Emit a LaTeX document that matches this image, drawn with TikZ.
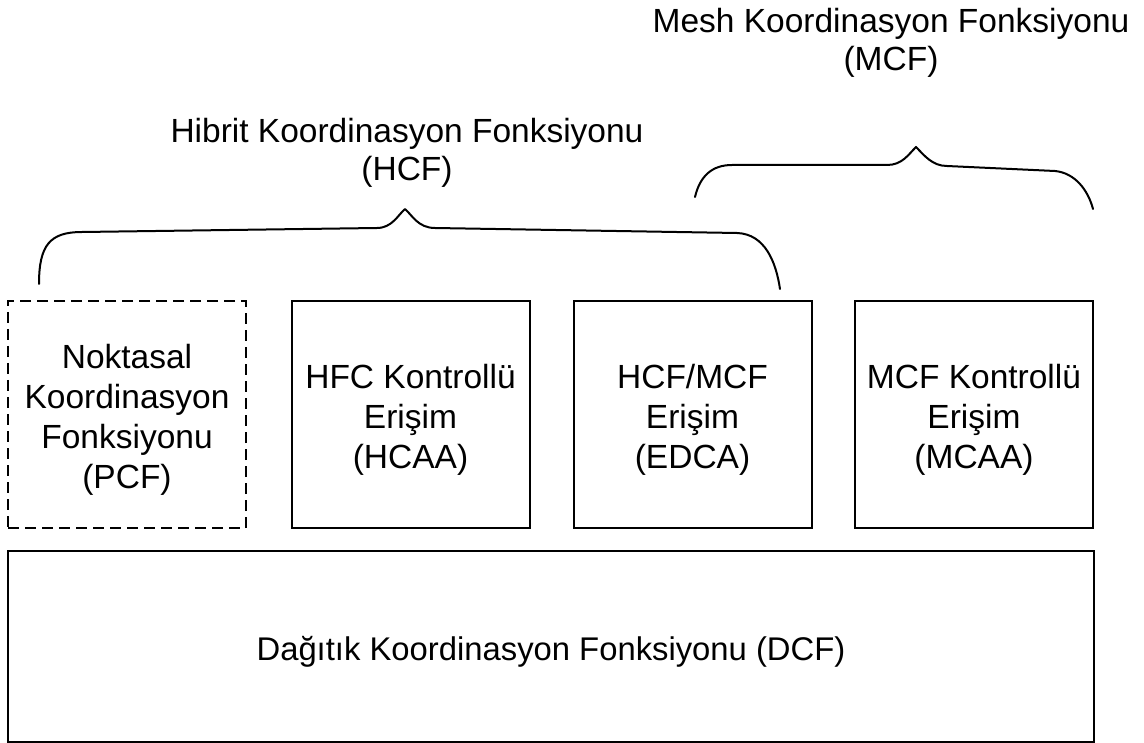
\documentclass[tikz,border=0pt]{standalone}
\usepackage{fontspec}
\setmainfont{Liberation Sans}
% taller first line, so box texts sit a little lower
\newcommand\boxpad{\rule{0pt}{35pt}}
\begin{document}
\begin{tikzpicture}[x=1pt,y=-1pt,
  box/.style={draw, line width=2pt, minimum width=238pt, minimum height=227pt,
    inner sep=0pt, align=center, font=\fontsize{33.5}{40}\selectfont},
  dashbox/.style={box, dash pattern=on 11pt off 6pt},
  brace/.style={draw, line width=2pt, line cap=round, line join=round},
  lbl/.style={align=center, inner sep=0pt, font=\fontsize{33.5}{38}\selectfont}]
\useasboundingbox (0,0) rectangle (1144,743);

% upper row of access functions
\node[dashbox] (pcf)  at (127,414.5) {\boxpad Noktasal\\Koordinasyon\\Fonksiyonu\\(PCF)};
\node[box]     (hcaa) at (410.5,414.5) {\boxpad HFC Kontrollü\\Erişim\\(HCAA)};
\node[box]     (edca) at (692.5,414.5) {\boxpad HCF/MCF\\Erişim\\(EDCA)};
\node[box]     (mcaa) at (974,414.5) {\boxpad MCF Kontrollü\\Erişim\\(MCAA)};

% base layer
\node[box, minimum width=1086pt, minimum height=191pt,
  font=\fontsize{32.8}{40}\selectfont] (dcf) at (551,646)
  {\boxpad Dağıtık Koordinasyon Fonksiyonu (DCF)};

% labels above the braces
\node[lbl] (hcf) at (407,153) {Hibrit Koordinasyon Fonksiyonu\\(HCF)};
\node[lbl] (mcf) at (891,43) {Mesh Koordinasyon Fonksiyonu\\(MCF)};

% HCF brace over PCF, HCAA and EDCA
\path[brace] (39,284) .. controls (39,245) and (50,232) .. (82,232)
  -- (377,228) .. controls (392,228) and (398,215) .. (405,209)
  .. controls (412,215) and (418,228) .. (435,228)
  -- (737,233) .. controls (765,234) and (776,262) .. (780,289);

% MCF brace over EDCA and MCAA
\path[brace] (695,197) .. controls (700,176) and (712,165) .. (732,165)
  -- (887,165) .. controls (902,165) and (908,155) .. (916,147)
  .. controls (924,155) and (932,166) .. (947,166)
  -- (1055,171) .. controls (1075,173) and (1088,190) .. (1093,209);
\end{tikzpicture}
\end{document}
